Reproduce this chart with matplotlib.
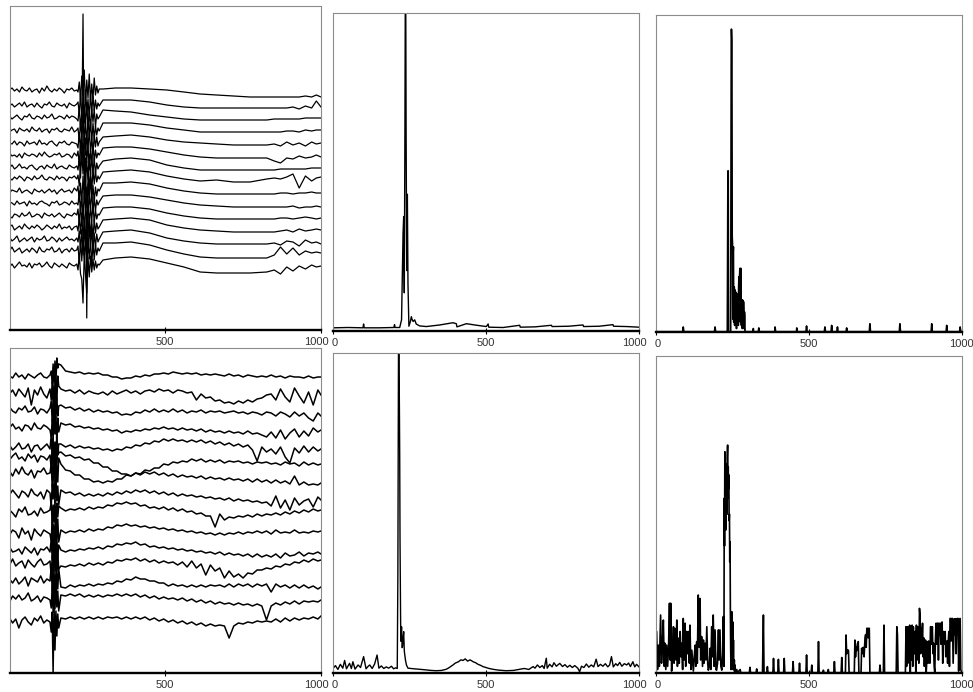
import numpy as np
import matplotlib
matplotlib.use('Agg')
import matplotlib.pyplot as plt
from matplotlib.transforms import ScaledTranslation

matplotlib.rc('font', family=['Liberation Sans', 'DejaVu Sans'])
matplotlib.rc('xtick', labelsize=8)

FRAME_COLOR = '#8c8c8c'
LABEL_COLOR = '#333333'

# ---------------- top-left: 15 stacked traces (depth units, larger = lower)
TL_LEVELS = [90, 105, 117, 130, 143, 155, 167, 178, 191, 203, 215, 227, 239, 250, 265]
TL_PRE_X = np.arange(0, 217, 8)
TL_BURST_X = np.arange(220, 289, 4)
TL_POST_X = [300, 340, 390, 450, 505, 560, 612, 665, 719, 772, 826, 850, 870,
             890, 910, 930, 950, 970, 985, 1000]

TL_PRE = [
    [0, -2, 1, -1, 2, -3, 0, 1, -2, 2, 0, -1, 3, -2, 1, -4, 0, 2, -1, 1, -2, 0, 3, -1, 0, -2, 1, 0],
    [1, -1, 2, 0, -2, 1, -3, 2, 0, -1, 2, -2, 1, 3, -1, 0, -3, 1, 2, -2, 0, 1, -1, 3, -2, 0, 1, -1],
    [-1, 2, 0, -2, 1, 3, -1, 0, -3, 1, 2, -1, 0, 2, -2, 1, 0, -3, 2, 1, -1, 0, 2, -2, 1, -1, 0, 2],
    [2, 0, -1, 3, -2, 0, 1, -1, 2, -3, 0, 1, -2, 2, 0, -1, 3, -1, 0, -2, 1, 2, -1, 0, 1, -3, 2, 0],
    [0, 1, -2, 2, -1, 0, 3, -2, 1, 0, -1, 2, -3, 1, 0, 2, -1, -2, 1, 3, -1, 0, -2, 1, 2, -1, 0, 1],
    [-2, 1, 0, 2, -1, 3, -2, 0, 1, -1, 0, 2, -2, 1, -3, 0, 2, 1, -1, 0, -2, 2, 1, -1, 0, 3, -2, 1],
    [1, -2, 2, 0, -3, 1, 0, 2, -1, -2, 1, 3, 0, -1, 2, -2, 0, 1, -3, 2, 0, -1, 1, 2, -2, 0, 1, -1],
    [0, 2, -1, 1, -2, 0, 3, -1, 0, 2, -2, 1, 0, -3, 1, 2, -1, 0, 2, -2, 1, -1, 0, 3, -1, 0, -2, 1],
    [2, -1, 0, 1, -3, 2, 0, -1, 1, 3, -2, 0, 1, -1, 2, 0, -2, 1, -1, 3, 0, -2, 1, 0, -1, 2, -3, 0],
    [-1, 0, 2, -2, 1, 0, -1, 3, -2, 1, 0, 2, -1, -2, 0, 1, 3, -1, 0, -2, 2, 1, -1, 0, 2, -2, 1, 0],
    [1, 3, -1, 0, 2, -2, 1, 0, -3, 2, 1, -1, 0, 3, -2, 0, 1, -1, 2, 0, -2, 1, 3, -1, 0, 1, -2, 0],
    [0, -2, 3, 1, -1, 2, -3, 0, 2, -1, 1, -2, 0, 3, 1, -2, 0, 2, -1, 1, -3, 2, 0, 1, -1, 3, 0, -1],
    [-2, 2, 0, -3, 3, 1, -1, 2, 0, -2, 3, -1, 1, 0, -3, 2, 1, -2, 0, 3, -1, 2, 0, -2, 1, 0, 2, -1],
    [1, -3, 2, 0, -2, 3, 1, -1, 2, -2, 0, 3, -3, 1, 2, -1, 0, -3, 2, 1, -2, 3, 0, -1, 2, -2, 1, 0],
    [2, -1, 3, 0, -3, 1, 0, 2, -2, 3, -1, 0, -2, 2, 0, -3, 1, 3, -2, 0, 2, -1, 1, 3, -2, 0, 1, -1],
]
TL_BURST = [
    [2, -8, 10, -14, 6, -20, 15, -10, 8, -16, 12, -6, 9, -12, 5, -4, 3, -1],
    [-3, 9, -12, 14, -8, 18, -15, 10, -6, 13, -11, 7, -9, 6, -5, 4, -2, 1],
    [4, -10, 13, -6, 16, -12, 9, -15, 11, -7, 14, -9, 5, -8, 10, -3, 2, 0],
    [-2, 12, -9, 7, -16, 11, -8, 14, -12, 6, -10, 13, -7, 9, -4, 5, -2, 1],
    [5, -11, 8, -13, 15, -7, 12, -10, 6, -14, 9, -5, 11, -8, 4, -6, 3, -1],
    [-4, 10, -14, 9, -6, 13, -17, 8, -11, 15, -7, 10, -12, 7, -5, 3, -2, 0],
    [3, -9, 11, -15, 7, -10, 16, -6, 12, -13, 8, -11, 6, -9, 7, -4, 2, -1],
    [-3, 8, -12, -40, -164, 10, -20, 140, -10, 12, -8, 14, -9, 6, -7, 4, -2, 1],
    [-5, 11, -8, 13, -15, 9, -12, 17, -7, 10, -14, 8, -6, 11, -4, 5, -2, 0],
    [2, -12, 9, -7, 14, -11, 8, -16, 12, -9, 7, -13, 10, -6, 8, -3, 2, -1],
    [-6, 9, -13, 11, -8, 15, -10, 7, -14, 12, -9, 6, -11, 8, -5, 4, -1, 0],
    [4, -10, 7, -14, 12, -6, 15, -11, 9, -13, 10, -7, 12, -8, 6, -4, 2, 0],
    [3, -8, 12, -10, 16, -13, 8, -9, 13, -15, 7, -10, 11, -6, 8, -5, 3, 0],
    [-4, 13, -9, 11, -13, 8, -11, 14, -7, 9, -12, 16, -8, 10, -6, 5, -2, 1],
    [5, -11, 9, 14, 38, -12, 10, 28, -8, 12, -9, 7, -6, 5, -4, 3, -1, 0],
]
TL_POST = [
    [-1, -2, -2, -1, 0, 2, 4, 5, 6, 7, 7, 7, 7, 7, 7, 7, 6, 7, 5, 7],
    [-5, -5, -5, -3, 0, 2, 3, 3, 3, 3, 3, 3, 3, 3, 2, 4, 1, 3, -4, 2],
    [-7, -6, -5, -2, 0, 2, 3, 3, 3, 3, 3, 2, 2, 2, 2, 2, 1, 1, 1, 1],
    [-7, -7, -7, -5, -2, 0, 2, 2, 2, 2, 2, 2, 2, 1, 1, 2, 0, 1, 0, 0],
    [-6, -7, -8, -6, -3, -1, 0, 1, 2, 2, 2, 1, 3, -1, 2, 0, 3, -1, 1, 0],
    [-7, -8, -8, -6, -3, 0, 2, 3, 3, 3, 3, 6, 8, 3, 4, 1, 3, 2, 0, 2],
    [-6, -8, -9, -7, -2, 1, 3, 3, 3, 3, 3, 3, 2, 2, 2, 2, 2, 1, 1, 1],
    [-6, -7, -8, -6, -2, 1, 3, 2, 4, 4, 1, 0, 1, -1, -4, 10, -2, 3, 0, -1],
    [-8, -8, -9, -7, -3, 0, 2, 3, 3, 3, 3, 3, 2, 2, 3, 2, 2, 1, 2, 2],
    [-7, -8, -8, -6, -3, 0, 2, 3, 4, 4, 4, 4, 4, 4, 3, 5, 4, 4, 3, 4],
    [-7, -8, -8, -6, -2, 1, 3, 4, 4, 4, 4, 4, 3, 3, 4, 3, 2, 3, 4, 3],
    [-7, -8, -9, -7, -2, 1, 3, 4, 5, 5, 5, 5, 4, 3, 5, 2, 4, 3, 2, 3],
    [-7, -8, -9, -6, -1, 2, 4, 5, 5, 5, 5, 4, 6, 2, 3, 7, 1, 4, 3, 5],
    [-7, -7, -8, -5, 0, 4, 7, 8, 8, 8, 8, 5, -3, 4, -2, 5, 1, 3, 2, 3],
    [-5, -7, -8, -6, -2, 2, 7, 8, 8, 8, 7, 5, 9, 2, 6, 1, 4, 0, 2, 1],
]

# ---------------- bottom-left: 15 stacked traces
BL_LEVELS = [376, 392, 410, 427, 447, 457, 472, 493, 512, 532, 550, 563, 580, 598, 620]
BL_PRE_X = np.arange(0, 131, 10)
BL_BURST_X = np.arange(134, 159, 3)
BL_POST_X = list(range(165, 1000, 15)) + [1000]

BL_PRE = [
    [0, 2, -3, 1, -1, 3, -2, 0, 2, -1, -3, 1, 2, -1],
    [2, -2, 4, -3, 1, 5, -4, 13, -2, 3, -5, 2, 6, -3],
    [-3, 1, 3, -2, 0, -4, 2, 1, -3, 4, -1, 0, 3, -2],
    [1, -3, 2, 0, 4, -2, -1, 3, -4, 1, 2, -2, 0, 3],
    [-2, 3, 0, -4, 2, 1, -3, 5, -1, -2, 3, 0, -3, 2],
    [3, -1, -4, 2, 0, 4, -3, 1, -2, 5, -1, 0, 3, -2],
    [-1, 4, -3, 2, -5, 1, 3, -2, 6, -1, 0, -4, 2, 1],
    [2, -3, 1, 5, -2, 0, 4, -4, 1, 3, -1, 6, -3, 0],
    [-2, 1, 5, -3, 0, -5, 3, 2, -1, 4, -4, 1, 0, -2],
    [3, -2, 0, 6, -4, 2, -1, 8, -3, 1, 4, -2, 0, 2],
    [-3, 2, 1, -1, 4, -3, 0, 3, -2, 5, -1, 0, -3, 2],
    [2, -4, 3, 0, -2, 5, -3, 1, 4, -1, -4, 2, 1, -2],
    [-1, 3, -2, 4, 1, -3, 6, -2, 0, 2, -4, 3, -1, 1],
    [4, -2, 1, -3, 2, 0, -5, 3, 1, -2, 4, -1, 0, 2],
    [-2, 3, -1, 8, 0, -3, 2, 5, -2, 1, -4, 3, 0, 2],
]
BL_BURST = [
    [-5, 8, -12, 10, -15, 6, -18, -8, -12],
    [8, -10, 14, -6, 12, -14, 9, -16, -6],
    [-9, 12, -7, 15, -11, 9, -13, 6, -4],
    [10, -8, 13, -15, 7, -10, 15, -9, 5],
    [-12, 6, -9, 14, -5, 11, -14, 8, -3],
    [12, -14, 8, -10, 16, -7, 11, -12, -4],
    [-8, 15, -11, 9, -16, 12, -6, 10, -14],
    [14, -9, 6, -13, 10, -15, 8, -7, 12],
    [-10, 13, -7, 11, -12, 16, -9, 5, -6],
    [9, -14, 12, -8, 15, -11, 7, -13, 10],
    [-11, 9, -15, 13, -7, 10, -12, 8, -5],
    [13, -7, 10, -14, 8, -9, 14, -10, 6],
    [-13, 11, -8, 15, -10, 12, -6, 9, -11],
    [10, -12, 14, -9, 11, -15, 9, -7, 13],
    [12, -8, 53, -14, 30, -9, 16, -6, 8],
]
BL_POST = [
    [-11, -5, -4, -3, -4, -2, -3, -2, -3, -1, -1, 1, 1, 3, 2, 2, 0, 1, -1, 0,
     -2, -2, -3, -2, -4, -3, -2, -3, -2, -3, -1, -2, -1, -2, -1, 0, -2, 0, -1, 1,
     -1, 0, 1, 0, 1, -1, 1, 0, 2, 0, 1, 1, 2, 0, 2, 1, 1],
    [-3, -1, -2, 1, -2, 2, -1, 1, 2, 0, 3, -1, 2, 0, -2, 1, -1, 2, -1, -2,
     0, -3, -1, -2, 1, -2, -1, 1, 0, 8, 2, 6, 5, 9, 8, 11, 10, 12, 9, 11,
     8, 10, 7, 6, 3, 2, 8, -3, 5, 10, -4, 4, 11, 0, 13, -2, 3],
    [-5, -2, -3, 0, -2, 1, -1, 2, 0, 2, 1, 3, 2, 5, 4, 5, 2, 3, 0, 2,
     -1, 2, 0, 2, -1, 2, 0, 3, 1, 2, 0, 3, 1, 2, 1, 3, 2, 1, 3, 2,
     4, 2, 3, 5, 2, 3, 6, 2, 4, 7, 2, 6, 3, 8, 11, 3, 6],
    [-4, -2, -3, 0, -1, 1, 0, 2, 1, 3, 2, 4, 3, 6, 4, 5, 3, 4, 2, 3,
     1, 2, 0, 2, 1, 3, 1, 3, 2, 4, 2, 5, 3, 5, 4, 6, 4, 6, 5, 7,
     4, 7, 6, 8, 10, 5, 11, 3, 12, 6, 2, 10, 4, 9, 1, 5, 3],
    [-3, 0, -2, 1, -1, 1, 0, 2, 1, 3, 2, 4, 2, 3, 0, 1, -2, -1, -4, -3,
     -6, -5, -8, -6, -8, -6, -7, -5, -7, -5, -7, -4, -6, -3, -5, -2, -4, -1, -3, 0,
     -2, 3, 14, 0, 5, 2, 7, 0, 10, 16, 1, 6, -1, 5, 0, 4, 2],
    [-5, -1, -2, 1, 0, 3, 2, 6, 6, 10, 10, 14, 14, 17, 17, 19, 16, 17, 13, 14,
     11, 11, 7, 8, 5, 6, 4, 5, 2, 4, 2, 5, 3, 5, 3, 6, 4, 5, 4, 6,
     5, 7, 5, 6, 5, 7, 6, 8, 5, 7, 6, 9, 5, 8, 6, 8, 7],
    [-8, -2, -1, 3, 3, 7, 7, 10, 9, 11, 9, 10, 7, 7, 3, 4, 1, 3, 0, 2,
     0, 3, 1, 4, 2, 5, 3, 5, 4, 6, 4, 7, 5, 7, 6, 8, 6, 8, 7, 9,
     7, 10, 7, 10, 8, 11, 8, 11, 9, 12, 4, 13, 10, 13, 12, 13, 11],
    [-3, 0, -1, 2, 0, 3, 1, 3, 1, 3, 0, 2, -1, 1, -2, 0, -3, -1, -3, 0,
     -2, 1, -1, 2, 0, 3, 1, 3, 2, 4, 3, 5, 4, 6, 5, 7, 5, 8, 6, 8,
     7, 9, 8, 10, 9, 13, 3, 15, 7, 17, 5, 12, 8, 6, 14, 4, 7],
    [-4, -1, -3, -2, -4, -2, -5, -3, -5, -4, -7, -6, -9, -8, -10, -8, -9, -6, -7, -4,
     -5, -3, -5, -2, -4, -1, -3, 0, -1, 2, 1, 4, 4, 15, 2, 8, 5, 6, 4, 5,
     3, 5, 2, 4, 2, 3, 1, 3, 0, 2, -1, 1, -2, 0, -3, -1, -2],
    [-2, 1, -1, 0, -2, 0, -3, -1, -3, -2, -5, -4, -7, -6, -8, -6, -7, -5, -6, -4,
     -5, -3, -4, -2, -3, -1, -2, 0, -1, 1, 0, 2, 1, 3, 1, 3, 1, 2, 0, 2,
     0, 1, -1, 1, -1, 2, -2, 1, 0, 1, -2, 1, 0, 1, -1, 0, -1],
    [0, 2, 0, 1, -1, 0, -2, -1, -3, -1, -4, -3, -6, -5, -7, -6, -8, -5, -6, -3,
     -4, -2, -3, -1, -2, 0, -1, 1, 0, 2, 1, 3, 2, 4, 2, 5, 3, 5, 4, 6,
     4, 7, 4, 7, 5, 7, 4, 8, 3, 6, 5, 2, 6, 3, 4, 2, 4],
    [3, 4, 2, 3, 1, 3, 0, 2, 0, 2, -1, 0, -3, -2, -4, -3, -5, -2, -4, -1,
     -3, 0, -2, 0, -1, 2, -1, 4, -2, 5, 1, 12, 2, 8, 5, 15, 8, 14, 11, 15,
     10, 11, 7, 7, 5, 6, 3, 4, 1, 2, -1, 0, -3, -1, -4, -2, -3],
    [7, 8, 5, 7, 5, 6, 4, 6, 4, 5, 3, 4, 1, 2, -1, 0, -3, -1, -1, 1,
     1, 3, 3, 6, 4, 6, 5, 7, 5, 7, 5, 7, 5, 6, 5, 7, 4, 7, 4, 6,
     4, 7, 4, 6, 4, 12, 4, 7, 5, 8, 5, 8, 5, 8, 6, 9, 7],
    [-3, -2, -4, -2, -4, -1, -3, -1, -3, -1, -3, -2, -4, -2, -4, -2, -4, -1, -3, 0,
     -2, 1, -1, 1, 0, 2, 0, 3, 1, 4, 2, 5, 3, 6, 4, 6, 5, 7, 5, 7,
     6, 8, 6, 8, 22, 8, 5, 7, 4, 6, 3, 6, 3, 4, 3, 4, 2],
    [-2, -1, -3, -1, -3, -1, -3, -1, -3, -1, -3, -2, -3, -1, -3, -1, -3, -1, -3, 0,
     -2, 1, -1, 2, 0, 3, 1, 4, 2, 5, 3, 6, 4, 6, 5, 6, 18, 6, 3, 4,
     2, 3, 1, 2, 1, 2, -1, 2, -2, 1, -2, 0, -2, -1, -3, -1, -4],
]

# ---------------- spectra, (position, % of panel height)
TM_POINTS = [
    (0, 1.0), (50, 1.1), (98, 1.0), (100, 2.2), (102, 1.0), (150, 1.0), (199, 1.1),
    (201, 2.0), (203, 1.1), (218, 1.1), (224, 3.5), (227, 20), (229, 31), (231, 36),
    (233, 12), (235, 62), (237, 130), (239, 60), (241, 19), (243, 43), (245, 15),
    (248, 1.5), (253, 3.0), (256, 4.5), (259, 3.5), (262, 3.0), (267, 3.5), (272, 2.2),
    (283, 1.6), (305, 1.4), (349, 1.9), (392, 2.6), (403, 2.3), (405, 1.3), (436, 2.3),
    (470, 1.8), (501, 1.4), (507, 2.2), (509, 1.2), (556, 1.1), (610, 1.8), (612, 1.2),
    (660, 1.3), (714, 1.8), (716, 1.4), (770, 1.5), (817, 1.9), (819, 1.4), (870, 1.5),
    (915, 2.0), (917, 1.5), (960, 1.4), (1000, 1.2),
]

TR_POINTS = [
    (0, 0), (88, 0), (90, 1.5), (92, 0), (192, 0), (194, 1.5), (196, 0), (234, 0),
    (236, 50.8), (237, 50.8), (238, 0), (245, 0), (247, 95.5), (248, 95.5), (249, 92),
    (250, 30), (251, 28), (252, 4), (253, 25), (254, 26.8), (255, 3), (256, 14.2),
    (257, 14), (258, 2), (259, 13.2), (260, 12), (261, 3), (262, 12.5), (263, 12.1),
    (264, 1), (265, 12), (266, 11.6), (267, 4), (268, 11.6), (269, 10), (270, 2),
    (271, 14), (272, 17.4), (273, 5), (274, 17), (275, 20), (276, 19), (277, 3),
    (278, 20), (279, 14), (280, 2), (281, 10), (282, 10), (283, 1), (284, 10),
    (285, 9.5), (286, 2), (287, 9.5), (288, 6.3), (289, 1), (290, 6.3), (291, 5),
    (292, 0), (318, 0), (319, 1), (320, 0), (335, 0), (337, 1.2), (339, 0), (389, 0),
    (390, 1.5), (392, 0), (460, 0), (461, 1.2), (463, 0), (491, 0), (493, 1.8),
    (495, 0), (551, 0), (553, 1.5), (555, 0), (573, 0), (575, 2), (577, 0), (592, 0),
    (594, 1.5), (596, 0), (622, 0), (624, 1.2), (626, 0), (698, 0), (700, 2.5),
    (702, 0), (796, 0), (798, 2.5), (800, 0), (900, 0), (902, 2.5), (904, 0),
    (949, 0), (951, 2.0), (953, 0), (993, 0), (995, 1.5), (997, 0), (1000, 0),
]

BM_POINTS = [
    (0, 1.5), (8, 2.4), (16, 1.2), (24, 2.8), (32, 1.6), (38, 4.0), (44, 1.4), (54, 3.1),
    (60, 1.5), (65, 3.6), (72, 1.3), (82, 2.6), (90, 1.8), (100, 5.2), (108, 1.4),
    (115, 2.2), (120, 2.6), (128, 1.5), (136, 2.9), (144, 5.7), (150, 1.6), (158, 2.3),
    (166, 1.5), (174, 2.0), (182, 1.6), (191, 2.2), (198, 1.4), (205, 1.7), (210, 1.5),
    (212, 31), (214, 100), (215, 120), (216, 95), (217, 83), (218, 68), (219, 42),
    (221, 16), (222, 10), (224, 14.5), (226, 8), (227, 8.3), (229, 11), (231, 13),
    (233, 7), (234, 6.2), (237, 4), (240, 2.6), (245, 1.6), (255, 1.5), (265, 1.4),
    (283, 1.25), (300, 1.1), (320, 0.9), (338, 0.8), (355, 0.9), (370, 1.25), (380, 1.8),
    (392, 2.6), (400, 3.2), (410, 3.6), (418, 4.2), (425, 4.0), (432, 4.5), (440, 3.8),
    (448, 4.2), (458, 3.6), (466, 3.3), (474, 2.8), (482, 2.5), (490, 2.1), (500, 1.8),
    (510, 1.5), (523, 1.25), (540, 1.0), (566, 0.8), (590, 0.9), (610, 1.25), (625, 1.5),
    (640, 1.2), (654, 2.1), (660, 1.6), (668, 2.6), (676, 1.8), (684, 2.4), (690, 1.5),
    (697, 4.7), (700, 1.6), (708, 2.8), (716, 2.0), (722, 3.3), (730, 2.2), (741, 3.1),
    (750, 2.1), (758, 2.7), (766, 1.9), (774, 2.5), (782, 1.8), (790, 2.4), (800, 1.6),
    (806, 0.5), (812, 2.2), (820, 1.8), (828, 2.9), (836, 1.9), (844, 2.6), (852, 2.0),
    (860, 4.4), (866, 2.1), (874, 2.8), (882, 2.2), (890, 3.0), (898, 2.0), (904, 2.6),
    (910, 5.2), (916, 2.0), (924, 3.0), (930, 2.4), (937, 3.4), (944, 2.2), (952, 3.0),
    (960, 2.6), (966, 3.2), (972, 2.1), (980, 3.6), (986, 2.0), (992, 2.8), (1000, 2.0),
]

BR_POINTS = [
    (0, 1), (3, 13), (6, 1), (9, 8.7), (12, 2), (16, 18.2), (19, 3), (22, 9), (25, 16.6),
    (28, 2), (30, 9.3), (33, 1), (36, 8.7), (39, 2), (42, 8), (45, 21.9), (47, 4),
    (49, 21.9), (52, 0.5), (55, 6), (58, 14.5), (60, 3), (63, 14), (66, 4), (69, 16.6),
    (71, 2), (74, 10.9), (77, 3), (80, 13), (83, 5), (85, 9.3), (88, 1), (90, 17.1),
    (93, 4), (96, 15.6), (98, 2), (101, 13), (104, 6), (107, 13), (110, 3), (112, 15),
    (115, 1), (118, 7.1), (123, 0.5), (126, 5), (129, 8.7), (131, 2), (134, 9.8),
    (136, 3), (139, 24.5), (142, 8), (145, 23.4), (147, 4), (150, 11.4), (153, 2),
    (156, 10.3), (158, 3), (161, 9.3), (164, 4), (167, 14.5), (170, 3), (172, 0.8),
    (175, 2), (178, 7.7), (180, 1), (183, 14.5), (186, 5), (188, 18.2), (191, 2),
    (194, 13.5), (197, 1), (199, 0.8), (202, 3), (205, 13.5), (207, 4), (210, 13.5),
    (213, 2), (216, 0.8), (219, 6), (221, 17.7), (223, 2), (224, 55), (225, 40),
    (226, 69.7), (227, 50), (228, 66), (229, 45), (230, 61.3), (231, 58), (232, 62),
    (233, 50), (234, 68), (235, 71.8), (236, 55), (237, 65), (238, 58), (239, 62.4),
    (240, 48), (241, 50), (242, 35), (243, 41.3), (244, 20), (245, 8), (246, 1),
    (247, 12), (248, 3), (249, 19.2), (250, 2), (252, 16), (253, 1), (254, 10.3),
    (255, 1), (257, 4), (258, 0), (259, 2.4), (261, 0), (265, 1), (267, 0), (276, 1),
    (278, 0), (306, 0), (308, 1.7), (310, 0), (328, 0), (330, 1.2), (332, 0), (349, 0),
    (352, 18.2), (354, 0), (363, 0), (365, 1.9), (367, 0), (383, 0), (385, 4.5), (387, 0),
    (399, 0), (401, 4.2), (403, 0), (418, 0), (420, 4.5), (422, 0), (447, 0), (449, 3.5),
    (451, 0), (468, 0), (470, 3), (472, 0), (491, 0), (493, 5.6), (495, 0), (508, 0),
    (510, 2.4), (512, 0), (530, 0), (532, 9.8), (534, 0), (546, 0), (548, 0.8), (550, 0),
    (562, 0), (564, 1), (566, 0), (582, 0), (584, 3.5), (586, 0), (606, 0), (608, 4.8),
    (610, 0), (620, 0), (622, 11.9), (624, 6), (628, 7.2), (630, 7), (632, 0), (649, 0),
    (651, 10.3), (653, 5), (655, 8), (657, 7), (659, 9), (662, 9.8), (664, 0), (671, 0),
    (673, 7.7), (675, 6), (678, 8), (681, 5), (684, 10.8), (686, 12), (688, 8),
    (690, 14), (692, 14), (694, 11), (696, 14), (698, 14), (700, 0), (731, 0),
    (733, 2.4), (735, 0), (744, 0), (746, 15), (748, 0), (786, 0), (788, 14.5),
    (790, 12), (792, 0), (816, 0), (818, 14.5), (820, 2), (822, 14.5), (824, 3),
    (826, 14.5), (828, 5), (830, 15), (832, 0), (834, 14.5), (836, 4), (838, 15),
    (840, 2), (842, 14.5), (844, 8), (846, 6), (848, 13), (850, 0), (852, 15), (854, 4),
    (856, 14.5), (858, 10), (860, 3), (862, 20.3), (864, 18), (866, 6), (868, 14),
    (870, 10), (872, 15.6), (874, 5), (876, 11), (878, 2), (880, 9), (882, 10.3),
    (884, 0), (886, 4), (888, 9.8), (890, 3), (892, 10), (894, 9.5), (896, 3),
    (898, 14.5), (900, 14.5), (902, 9), (904, 14.5), (906, 6), (908, 9.3), (910, 2),
    (912, 0), (914, 9.8), (916, 15.6), (918, 9), (920, 15.6), (922, 15.6), (924, 4),
    (926, 15.6), (928, 12), (930, 15.6), (932, 9), (934, 15.6), (936, 16), (938, 3),
    (940, 13), (942, 12), (944, 9), (946, 13), (948, 5), (950, 9.8), (952, 10), (954, 3),
    (956, 9.8), (958, 13), (960, 2), (962, 17.1), (964, 17.1), (966, 10), (968, 17.1),
    (970, 17.1), (972, 3), (974, 10), (976, 17), (978, 12), (980, 17), (982, 6),
    (984, 17), (986, 17.1), (988, 17.1), (990, 0.5), (993, 17), (995, 17.1), (997, 1),
    (1000, 0),
]

W, H = 973, 692


def px_axes(fig, left, right, top, bottom):
    '''Add axes given the frame edges in pixels of the full picture'''
    return fig.add_axes([left / W, (H - bottom) / H,
                         (right - left) / W, (bottom - top) / H])


def style_panel(fig, ax, ticks, labels, ylim, shift_last=0.0, shift_first=0.0):
    ax.set_xlim(0, 1000)
    ax.set_ylim(*ylim)
    for side in ('left', 'top', 'right'):
        ax.spines[side].set_color(FRAME_COLOR)
        ax.spines[side].set_linewidth(0.8)
    ax.spines['bottom'].set_color('black')
    ax.spines['bottom'].set_linewidth(1.7)
    ax.set_yticks([])
    ax.set_xticks(ticks)
    ax.set_xticklabels(labels)
    ax.tick_params(axis='x', direction='inout', length=5, width=0.8,
                   pad=2.5, color='black', labelcolor=LABEL_COLOR)
    # neighbouring panels' end labels sit side by side ("1000" + "0")
    tick_labels = ax.get_xticklabels()
    for lab, dx in ((tick_labels[-1], shift_last), (tick_labels[0], shift_first)):
        if dx:
            lab.set_transform(lab.get_transform()
                              + ScaledTranslation(dx / 72, 0, fig.dpi_scale_trans))


def plot_stacked(ax, levels, xs, parts, lw):
    x = np.concatenate([np.asarray(s, dtype=float) for s in xs])
    for i, level in enumerate(levels):
        dev = np.concatenate([np.asarray(p[i], dtype=float) for p in parts])
        ax.plot(x, level + dev, color='black', linewidth=lw)


def plot_spectrum(ax, points, lw=0.8):
    x, y = zip(*points)
    ax.plot(x, y, color='black', linewidth=lw)


fig = plt.figure(figsize=(W / 100, H / 100), dpi=100)

ax_tl = px_axes(fig, 9.5, 321, 6, 330)
plot_stacked(ax_tl, TL_LEVELS, [TL_PRE_X, TL_BURST_X, TL_POST_X],
             [TL_PRE, TL_BURST, TL_POST], 0.9)
style_panel(fig, ax_tl, [500, 1000], ['500', '1000'], (330, 6), shift_last=-3.5)

ax_tm = px_axes(fig, 333, 639, 13, 331)
plot_spectrum(ax_tm, TM_POINTS, 1.0)
style_panel(fig, ax_tm, [0, 500, 1000], ['0', '500', '1000'], (0, 100),
            shift_last=-3.5, shift_first=1.5)

ax_tr = px_axes(fig, 655.7, 961.7, 15, 331.7)
plot_spectrum(ax_tr, TR_POINTS, 1.2)
style_panel(fig, ax_tr, [0, 500, 1000], ['0', '500', '1000'], (0, 100),
            shift_first=1.5)

ax_bl = px_axes(fig, 9.5, 321, 348, 673)
plot_stacked(ax_bl, BL_LEVELS, [BL_PRE_X, BL_BURST_X, BL_POST_X],
             [BL_PRE, BL_BURST, BL_POST], 1.1)
style_panel(fig, ax_bl, [500, 1000], ['500', '1000'], (673, 348), shift_last=-3.5)

ax_bm = px_axes(fig, 333, 639, 352.7, 673.3)
plot_spectrum(ax_bm, BM_POINTS, 1.0)
style_panel(fig, ax_bm, [0, 500, 1000], ['0', '500', '1000'], (0, 100),
            shift_last=-3.5, shift_first=1.5)

ax_br = px_axes(fig, 655.7, 961.7, 355.7, 672.7)
plot_spectrum(ax_br, BR_POINTS, 1.2)
style_panel(fig, ax_br, [0, 500, 1000], ['0', '500', '1000'], (0, 100),
            shift_first=1.5)

fig.savefig('out.png', dpi=100)
